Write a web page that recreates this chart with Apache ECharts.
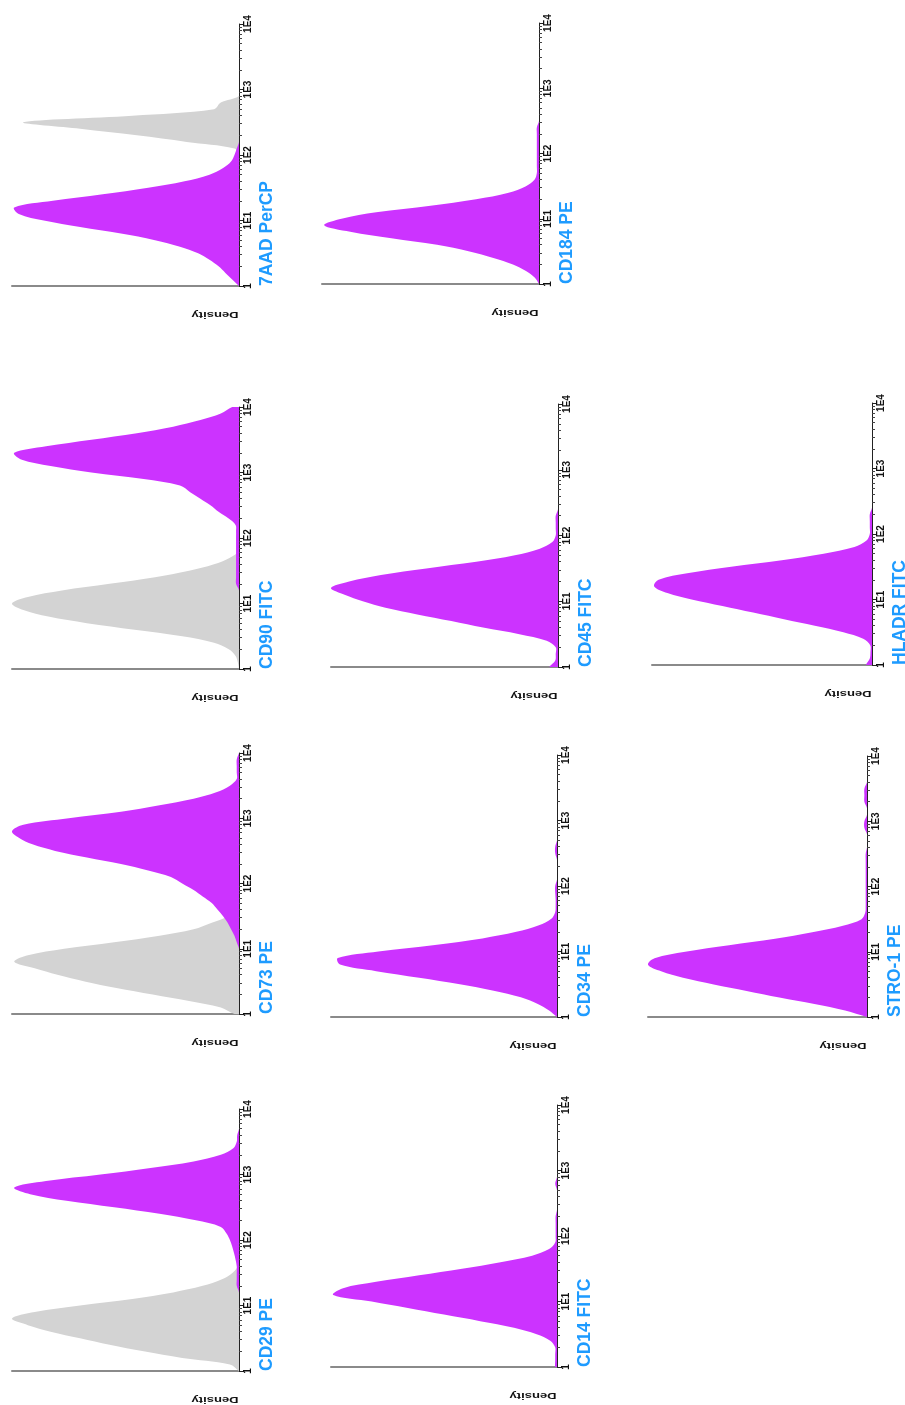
<!DOCTYPE html>
<html><head><meta charset="utf-8">
<script src="https://cdn.jsdelivr.net/npm/echarts@6/dist/echarts.min.js"></script>
<style>html,body{margin:0;padding:0;background:#fff}#c{width:905px;height:1405px}</style>
</head><body><div id="c"></div>
<script>
// Intensity bins (log-spaced, 10 per decade)
const bins = [1,1.259,1.585,1.995,2.512,3.162,3.981,5.012,6.310,7.943,
  10,12.59,15.85,19.95,25.12,31.62,39.81,50.12,63.10,79.43,
  100,125.9,158.5,199.5,251.2,316.2,398.1,501.2,631.0,794.3,
  1000,1259,1585,1995,2512,3162,3981,5012,6310,7943,10000];
const tickValues = [1, 10, 100, 1000, 10000];
const tickLabels = ['1', '1E1', '1E2', '1E3', '1E4'];
const panelNames = ['7AAD PerCP','CD184 PE','CD90 FITC','CD45 FITC','HLADR FITC','CD73 PE','CD34 PE','STRO-1 PE','CD29 PE','CD14 FITC'];
const densityLabel = 'Density';

// Relative density per bin: stained (magenta) and control (gray)
const stained7AAD = [0,3,6,9,13,18,26,37,52,70, 86,97,99,82,60,40,24,13,7,3.5, 2,1,0,0,0,0,0,0,0,0, 0,0,0,0,0,0,0,0,0,0, 0];
const control7AAD = [0,0,0,0,0,0,0,0,0,0, 0,0,0,0,0,0,0,0,0,0, 0,2,23,45,70,95,47,11,8,0, 0,0,0,0,0,0,0,0,0,0, 0];
const stainedCD184 = [0,2,6,12,21,32,47,68,87,99, 91,75,50,29,14,6,2,1,1,1, 1,1,1,1,1,0,0,0,0,0, 0,0,0,0,0,0,0,0,0,0, 0];
const stainedCD90 = [0,0,0,0,0,0,0,0,0,0, 0,0,0,1.3,1.3,1.3,1.3,1.3,1.3,1.3, 1.3,1.3,1.5,4.7,9,12.6,17,21.5,26,42, 65,83,96,99,85,65,45,29,17,8, 3];
const controlCD90 = [0,0.5,1.5,4.5,11,25,46,67,84,95, 100,93,78,57,37,22,11,4,0,0, 0,0,0,0,0,0,0,0,0,0, 0,0,0,0,0,0,0,0,0,0, 0];
const stainedCD45 = [3.7,1.2,1,1,5,17,33,47,62,76, 86,94,100,92,78,58,36,19,8,2.5, 1,1,1,1,0,0,0,0,0,0, 0,0,0,0,0,0,0,0,0,0, 0];
const stainedHLADR = [2.6,1,0.7,0.8,4,13,26,40,54,68, 82,93,99,97,84,64,41,22,8,2.5, 1,1,1,1,0,0,0,0,0,0, 0,0,0,0,0,0,0,0,0,0, 0];
const stainedCD73 = [0,0,0,0,0,0,0,0,0,0, 0,1,2,3.5,5,7,9.5,12,16,20, 25,30,40,52,67,81,91,97,100,95, 75,52,35,20,10,4,1,1,1,1, 0];
const controlCD73 = [2,8,22,38,54,68,80,90,99,93, 77,55,35,20,12,4.5,0,0,0,0, 0,0,0,0,0,0,0,0,0,0, 0,0,0,0,0,0,0,0,0,0, 0];
const stainedCD34 = [0,3.5,8.5,16,28,43,61,80,96,97, 79,54,33,18,8,2.5,0.8,0.6,0.6,0.8, 0.8,0,0,0,0,0.8,0.8,0,0,0, 0,0,0,0,0,0,0,0,0,0, 0];
const stainedSTRO1 = [0,10,24,40,55,70,84,94,100,97, 83,63,42,25,11,2.5,0.8,0.6,0.6,0.6, 0.6,0.6,0.6,0.6,0.6,0.6,0,0,0,1.2, 1.2,0,0,1.2,1.2,1.2,0,0,0,0, 0];
const stainedCD29 = [0,0,0,0,0,0,0,0,0,0, 0,0,0,1,1,1,1,1.5,2.2,3, 4,5.5,8,19,35,55,76,92,99,85, 61,39,20,8,2.5,1,0.8,0,0,0, 0];
const controlCD29 = [0,4,25,42,57,70,83,93,100,90, 70,47,29,16,7.5,2.8,0.5,0,0,0, 0,0,0,0,0,0,0,0,0,0, 0,0,0,0,0,0,0,0,0,0, 0];
const stainedCD14 = [0.8,0.8,0.8,0.8,3,9,19,34,50,66, 82,99,95,80,61,42,25,11,3.5,0.8, 0.6,0.6,0.6,0.6,0,0,0,0,0.8,0, 0,0,0,0,0,0,0,0,0,0, 0];

const stainedSets = [stained7AAD, stainedCD184, stainedCD90, stainedCD45, stainedHLADR, stainedCD73, stainedCD34, stainedSTRO1, stainedCD29, stainedCD14];
const controlSets = [control7AAD, null, controlCD90, null, null, controlCD73, null, null, controlCD29, null];

// Panel placement (px): left edge of density axis, x of intensity axis, top (1E4), bottom (1)
const layout = [
  {left:12, axis:239, top:24, bottom:286},
  {left:322, axis:539, top:23, bottom:284},
  {left:12, axis:239, top:407, bottom:669},
  {left:331, axis:558, top:404, bottom:667},
  {left:652, axis:872, top:403, bottom:665},
  {left:12, axis:239, top:753, bottom:1014},
  {left:331, axis:557, top:755, bottom:1017},
  {left:648, axis:867, top:756, bottom:1017},
  {left:12, axis:239, top:1109, bottom:1371},
  {left:331, axis:557, top:1105, bottom:1367}
];

const STAINED = '#CC33FF', CONTROL = '#D3D3D3', TITLE = '#1E9BFF';
const FONT = '"Liberation Sans", Arial, sans-serif';

function polySeries(idx, dens, color) {
  return {
    type: 'custom', coordinateSystem: 'cartesian2d', xAxisIndex: idx, yAxisIndex: idx,
    clip: true, silent: true, z: 2,
    data: bins.map((b, i) => [dens[i], b]),
    renderItem: function (params, api) {
      if (params.dataIndex !== 0) return null;
      const pts = [api.coord([0, bins[0]])];
      for (let i = 0; i < bins.length; i++) pts.push(api.coord([dens[i], bins[i]]));
      pts.push(api.coord([0, bins[bins.length - 1]]));
      return { type: 'polygon', shape: { points: pts, smooth: 0.35 }, style: { fill: color } };
    }
  };
}

const grid = [], xAxis = [], yAxis = [], series = [], graphic = [];
layout.forEach((L, i) => {
  grid.push({ left: L.left, top: L.top, width: L.axis - L.left, height: L.bottom - L.top, containLabel: false });
  xAxis.push({
    type: 'value', gridIndex: i, inverse: true, min: 0, max: 100, position: 'bottom',
    axisLine: { show: true, onZero: false, lineStyle: { color: '#8a8a8a', width: 2 } },
    axisTick: { show: false }, axisLabel: { show: false }, splitLine: { show: false }
  });
  yAxis.push({
    type: 'log', logBase: 10, gridIndex: i, min: 1, max: 10000, position: 'right', z: 5,
    axisLine: { show: true, onZero: false, lineStyle: { color: '#222', width: 1 } },
    axisTick: { show: true, length: 5, lineStyle: { color: '#222' } },
    minorTick: { show: true, splitNumber: 9, length: 3, lineStyle: { color: '#444' } },
    splitLine: { show: false }, minorSplitLine: { show: false },
    axisLabel: {
      show: true, rotate: 90, margin: 4, fontSize: 10, fontWeight: 'bold', color: '#111', fontFamily: FONT,
      formatter: v => tickLabels[tickValues.findIndex(t => Math.abs(t - v) / t < 1e-6)] || ''
    }
  });
  if (controlSets[i]) series.push(polySeries(i, controlSets[i], CONTROL));
  series.push(polySeries(i, stainedSets[i], STAINED));
  graphic.push({
    type: 'text', x: L.axis + 28, y: L.bottom, rotation: Math.PI / 2, silent: true,
    style: { text: panelNames[i], font: 'bold 17.5px ' + FONT, fill: TITLE, textAlign: 'left', textVerticalAlign: 'middle', align: 'left', verticalAlign: 'middle' }
  });
  graphic.push({
    type: 'text', x: L.axis - 24, y: L.bottom + 28, rotation: Math.PI, scaleX: 1.45, silent: true,
    style: { text: densityLabel, font: 'bold 9px ' + FONT, fill: '#111', textAlign: 'center', textVerticalAlign: 'middle', align: 'center', verticalAlign: 'middle' }
  });
});

const chart = echarts.init(document.getElementById('c'), null, { renderer: 'canvas' });
chart.setOption({ animation: false, backgroundColor: '#fff', grid, xAxis, yAxis, series, graphic });
</script></body></html>
